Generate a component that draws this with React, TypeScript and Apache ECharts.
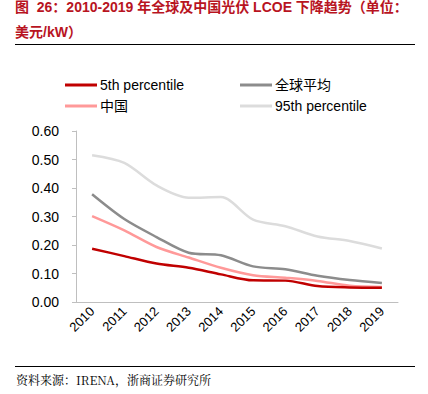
import React, { useEffect, useRef } from "react";
import * as echarts from "echarts";

const years = ["2010", "2011", "2012", "2013", "2014", "2015", "2016", "2017", "2018", "2019"];
const p5 = [0.187, 0.161, 0.135, 0.12, 0.097, 0.076, 0.075, 0.056, 0.051, 0.05];
const china = [0.301, 0.251, 0.193, 0.156, 0.12, 0.094, 0.085, 0.074, 0.057, 0.053];
const globalAvg = [0.378, 0.291, 0.228, 0.173, 0.164, 0.125, 0.115, 0.092, 0.077, 0.067];
const p95 = [0.515, 0.488, 0.409, 0.366, 0.368, 0.289, 0.266, 0.23, 0.214, 0.188];

const titleLine1 = "图  26：2010-2019 年全球及中国光伏 LCOE 下降趋势（单位：";
const titleLine2 = "美元/kW）";
const sourceText = "资料来源：IRENA，浙商证券研究所";

const FONT = "Liberation Sans, Arial, Noto Sans CJK SC, sans-serif";

export default function App() {
  const ref = useRef<HTMLDivElement>(null);
  useEffect(() => {
    const chart = echarts.init(ref.current!, undefined, { renderer: "svg" });
    const mk = (name: string, data: number[], color: string) => ({
      name,
      type: "line",
      data,
      smooth: 0.3,
      symbol: "none",
      lineStyle: { color, width: 2.5 },
      itemStyle: { color },
    });
    const legendCommon = {
      orient: "vertical",
      top: 73,
      itemWidth: 32,
      itemHeight: 3,
      itemGap: 7,
      icon: "rect",
      textStyle: { fontSize: 14, color: "#000", fontFamily: FONT, padding: [0, 0, 0, -2] },
    };
    chart.setOption({
      animation: false,
      textStyle: { fontFamily: FONT },
      legend: [
        { ...legendCommon, data: ["5th percentile", "中国"], left: 60 },
        { ...legendCommon, data: ["全球平均", "95th percentile"], left: 235 },
      ],
      grid: { left: 76, right: 30, top: 131, bottom: 92, containLabel: false },
      xAxis: {
        type: "category",
        data: years,
        boundaryGap: true,
        axisLine: { lineStyle: { color: "#bfbfbf", width: 1 } },
        axisTick: { show: false },
        axisLabel: { rotate: 45, fontSize: 13, color: "#000", margin: 7, fontFamily: FONT },
      },
      yAxis: {
        type: "value",
        min: 0,
        max: 0.6,
        interval: 0.1,
        axisLine: { show: true, lineStyle: { color: "#bfbfbf", width: 1 } },
        axisTick: { show: true, length: 4, lineStyle: { color: "#bfbfbf" } },
        splitLine: { show: false },
        axisLabel: {
          fontSize: 14,
          color: "#000",
          margin: 17,
          fontFamily: FONT,
          formatter: (v: number) => v.toFixed(2),
        },
      },
      series: [
        mk("95th percentile", p95, "#dcdcdc"),
        mk("全球平均", globalAvg, "#8c8c8c"),
        mk("中国", china, "#ff9999"),
        mk("5th percentile", p5, "#c00000"),
      ],
      graphic: [
        {
          type: "text",
          left: 15,
          top: 0,
          style: {
            text: titleLine1,
            fill: "#b8141f",
            font: "bold 14px " + FONT,
          },
        },
        {
          type: "text",
          left: 15,
          top: 25,
          style: {
            text: titleLine2,
            fill: "#b8141f",
            font: "bold 14px " + FONT,
          },
        },
        {
          type: "line",
          shape: { x1: 15, y1: 44.5, x2: 415, y2: 44.5 },
          style: { stroke: "#000", lineWidth: 1 },
        },
        {
          type: "line",
          shape: { x1: 15, y1: 366.5, x2: 415, y2: 366.5 },
          style: { stroke: "#000", lineWidth: 1 },
        },
        {
          type: "text",
          left: 16,
          top: 373,
          style: {
            text: sourceText,
            fill: "#000",
            font: "12px 'Noto Serif CJK SC', 'Liberation Serif', 'DejaVu Serif', serif",
          },
        },
      ],
    });
    return () => chart.dispose();
  }, []);
  return (
    <div
      ref={ref}
      style={{ position: "fixed", left: 0, top: 0, width: 428, height: 394, background: "#fff" }}
    />
  );
}
